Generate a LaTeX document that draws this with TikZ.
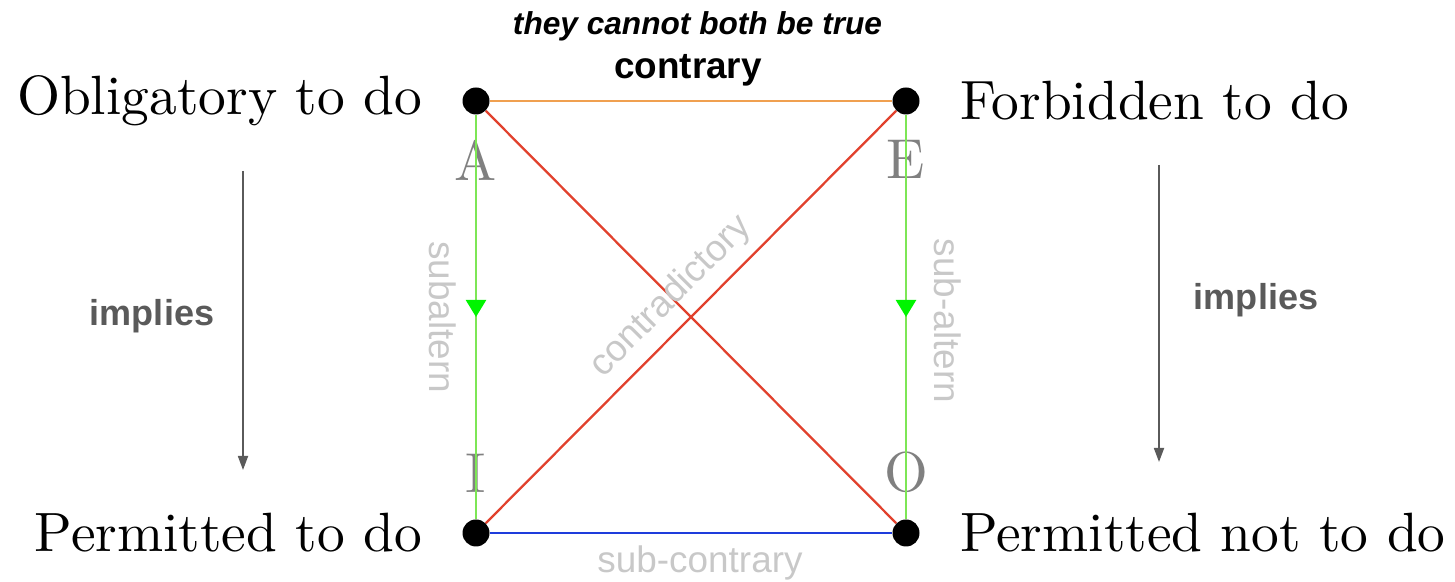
\documentclass[tikz,border=0pt]{standalone}
\usepackage{fontspec}
\setsansfont{Liberation Sans}
\newfontfamily\termfont{lmroman10-regular.otf}
\usepackage{xcolor}
\definecolor{controrange}{RGB}{240,160,80}
\definecolor{contrared}{RGB}{225,65,45}
\definecolor{subgreen}{RGB}{125,230,85}
\definecolor{tipgreen}{RGB}{0,245,0}
\definecolor{subblue}{RGB}{30,60,220}
\definecolor{lettergray}{RGB}{128,128,128}
\definecolor{labelgray}{RGB}{200,200,200}
\definecolor{implygray}{RGB}{90,90,90}
\usepackage{tikz}
\usetikzlibrary{arrows.meta,positioning,decorations.markings}

\begin{document}
\begin{tikzpicture}[node distance=0.8cm and 0.8cm]
  \tikzstyle{corner}=[circle,fill=black,inner sep=0pt,minimum size=0.54cm]
  \tikzstyle{term}=[inner sep=0pt,font=\termfont\fontsize{31.5}{36}\selectfont]
  \tikzstyle{vertex}=[inner sep=0pt,text=lettergray,font=\termfont\fontsize{32}{36}\selectfont]
  \tikzstyle{rellabel}=[inner sep=0pt,text=labelgray,font=\sffamily\fontsize{21}{24}\selectfont]
  \tikzstyle{implabel}=[inner sep=0pt,text=implygray,font=\sffamily\bfseries\fontsize{20.5}{24}\selectfont]
  \tikzstyle{implyarrow}=[draw=implygray,line width=1pt,-{Triangle[width=0.2cm,length=0.28cm]}]
  \tikzstyle{subalt}=[draw=subgreen,line width=1.3pt,postaction={decorate},decoration={markings,mark=at position 0.5 with {\arrow{Triangle[width=0.4cm,length=0.34cm,color=tipgreen]}}}]

  \useasboundingbox (0,0) rectangle (29.1,11.64);

  % the four corners of the square
  \node[corner] (A) at (9.52,9.62) {};
  \node[corner] (E) at (18.12,9.62) {};
  \node[corner] (I) at (9.52,0.98) {};
  \node[corner] (O) at (18.12,0.98) {};

  \node[term,left=of A] (oblig) {Obligatory to do};
  \node[term,right=of E] (forbid) {Forbidden to do};
  \node[term,left=of I] (perm) {Permitted to do};
  \node[term,right=of O] (permnot) {Permitted not to do};

  \node[vertex,below=0.5cm of A] (lA) {A};
  \node[vertex,below=0.5cm of E] (lE) {E};
  \node[vertex,above=0.52cm of I] (lI) {I};
  \node[vertex,above=0.52cm of O] (lO) {O};

  % relations
  \draw[controrange,line width=1.3pt] (A) -- (E);
  \draw[subblue,line width=1.3pt] (I) -- (O);
  \draw[contrared,line width=1.3pt] (A) -- (O);
  \draw[contrared,line width=1.3pt] (I) -- (E) node[rellabel,midway,sloped,above=0.2cm] (contrad) {contradictory};
  \draw[subalt] (A) -- (I);
  \draw[subalt] (E) -- (O);

  \node[rellabel,rotate=-90] (subaltL) at (8.86,5.30) {subaltern};
  \node[rellabel,rotate=-90] (subaltR) at (18.96,5.22) {sub-altern};
  \node[rellabel,anchor=base] (subcontr) at (14.0,0.18) {sub-contrary};
  \node[inner sep=0pt,anchor=base,font=\sffamily\bfseries\fontsize{21}{24}\selectfont] (contr) at (13.76,10.06) {contrary};
  \node[inner sep=0pt,anchor=base,font=\sffamily\bfseries\itshape\fontsize{18}{22}\selectfont] (nottrue) at (13.95,10.94) {they cannot both be true};

  % implication arrows at the sides
  \coordinate (impLtop) at (4.86,8.22);
  \coordinate (impLbot) at (4.86,2.24);
  \coordinate (impRtop) at (23.18,8.34);
  \coordinate (impRbot) at (23.18,2.40);
  \draw[implyarrow] (impLtop) -- (impLbot);
  \draw[implyarrow] (impRtop) -- (impRbot);
  \node[implabel] (impL) at (3.04,5.32) {implies};
  \node[implabel] (impR) at (25.12,5.64) {implies};
\end{tikzpicture}
\end{document}
